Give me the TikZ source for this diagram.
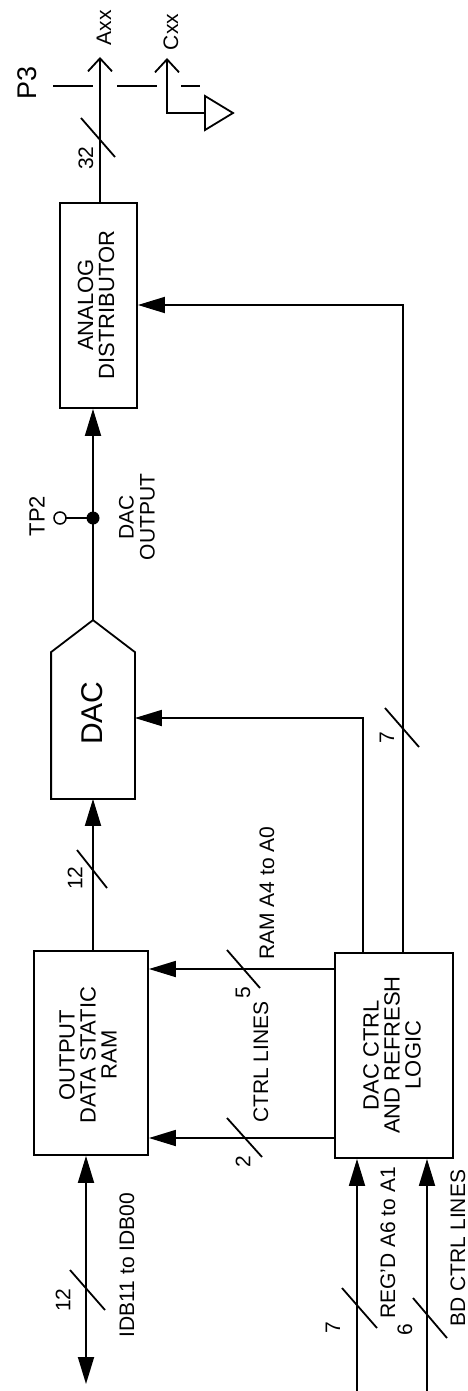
\documentclass[tikz,border=0pt]{standalone}
\usepackage{fontspec}
\setmainfont{Liberation Sans}
\usetikzlibrary{arrows.meta,calc}
\begin{document}
\begin{tikzpicture}[x=1pt,y=-1pt,
  line width=1.8pt,
  box/.style={draw, inner sep=0pt},
  hidden/.style={inner sep=0pt},
  lbl/.style={rotate=90, inner sep=0pt, font=\fontsize{21}{21}\selectfont},
  boxtxt/.style={rotate=90, inner sep=0pt, align=center, font=\fontsize{22}{21}\selectfont},
  arr/.style={-{Triangle[length=27pt,width=16pt]}},
  biarr/.style={{Triangle[length=27pt,width=16pt]}-{Triangle[length=27pt,width=16pt]}},
  openarr/.style={-{Straight Barb[length=13pt,width=24pt]}},
  slash/.style={line width=1.8pt}
]
\useasboundingbox (0,0) rectangle (467,1391);

% boxes
\node[box, minimum width=77pt, minimum height=205pt] (an) at (98.5,305.5) {};
\node[boxtxt] (antxt) at (96,305) {ANALOG\\DISTRIBUTOR};

\node[hidden, minimum width=82pt, minimum height=177pt] (dac) at (93,709.5) {};
\draw (dac.south west) -- ($(dac.north west)+(0,32)$) -- (dac.north) -- ($(dac.north east)+(0,32)$) -- (dac.south east) -- cycle;
\node[rotate=90, inner sep=0pt, font=\fontsize{30}{30}\selectfont] (dactxt) at (92,713) {DAC};

\node[box, minimum width=114pt, minimum height=204pt] (ram) at (91,1053) {};
\node[boxtxt] (ramtxt) at (88,1055) {OUTPUT\\DATA STATIC\\RAM};

\node[box, minimum width=118pt, minimum height=205pt] (ctrl) at (394,1055.5) {};
\node[boxtxt] (ctrltxt) at (392,1055) {DAC CTRL\\AND REFRESH\\LOGIC};

% outputs at P3
\coordinate (axx) at (100,57);
\coordinate (cxx) at (167,58);
\coordinate (cxc) at (167,113);
\coordinate (gnd) at (205,113);
\draw[openarr] (an.north -| axx) -- (axx);
\draw[openarr] (gnd) -- (cxc) -- (cxx);
\draw (gnd) -- (205,96) -- (233,113) -- (205,130) -- cycle;
\coordinate (p3a) at (53,86);
\coordinate (p3b) at (200,86);
\draw[dash pattern=on 40pt off 24pt] (p3a) -- (p3b);
\node[rotate=90, inner sep=0pt, font=\fontsize{27}{27}\selectfont] (p3) at (27,83) {P3};
\node[lbl] (axxl) at (104,28) {Axx};
\node[lbl] (cxxl) at (171,32) {Cxx};
\draw[slash] (81,118) -- (115,157);
\node[lbl] (n32) at (86,158) {32};

% DAC output
\coordinate (junc) at (93,518);
\coordinate (tp) at (60,518);
\draw[arr] (dac.north) -- (an.south -| dac.north);
\draw (tp) ++(6,0) -- (junc);
\draw[line width=1.5pt] (tp) circle (6pt);
\fill (junc) circle (6.5pt);
\node[lbl, font=\fontsize{22}{22}\selectfont] (tp2) at (37,516) {TP2};
\node[lbl, align=center] (dacout) at (137,517) {DAC\\OUTPUT};

% RAM to DAC
\draw[arr] (ram.north -| dac.south) -- (dac.south);
\draw[slash] (77,850) -- (107,888);
\node[lbl] (n12a) at (75,878) {12};

% ctrl to RAM
\coordinate (c5) at (ctrl.west |- 0,969);
\coordinate (c2) at (ctrl.west |- 0,1138);
\draw[arr] (c5) -- (c5 -| ram.east);
\draw[arr] (c2) -- (c2 -| ram.east);
\draw[slash] (227,950) -- (260,988);
\draw[slash] (227,1118) -- (262,1157);
\node[lbl] (n5) at (243,993) {5};
\node[lbl] (n2) at (243,1162) {2};
\node[lbl] (ramaddr) at (267,893) {RAM A4 to A0};
\node[lbl] (ctrllines) at (261,1062) {CTRL LINES};

% ctrl to DAC
\coordinate (cd) at (363,718);
\draw[arr] (ctrl.north -| cd) -- (cd) -- (cd -| dac.east);

% ctrl to analog distributor
\coordinate (ca) at (403,305);
\draw[arr] (ctrl.north -| ca) -- (ca) -- (ca -| an.east);
\draw[slash] (385,708) -- (419,747);
\node[lbl] (n7a) at (387,738) {7};

% IDB bus
\coordinate (idb) at (86,1384);
\draw[biarr] (ram.south -| idb) -- (idb);
\draw[slash] (70,1270) -- (105,1310);
\node[lbl] (n12b) at (63,1300) {12};
\node[lbl] (idbl) at (127,1265) {IDB11 to IDB00};

% inputs to ctrl
\coordinate (in1) at (357,1391);
\coordinate (in2) at (427,1391);
\draw[arr] (in1) -- (in1 |- ctrl.south);
\draw[arr] (in2) -- (in2 |- ctrl.south);
\draw[slash] (342,1288) -- (377,1328);
\draw[slash] (413,1298) -- (447,1338);
\node[lbl] (n7b) at (333,1328) {7};
\node[lbl] (n6) at (405,1330) {6};
\node[lbl] (regd) at (388,1243) {REG'D A6 to A1};
\node[lbl] (bdctrl) at (458,1248) {BD CTRL LINES};
\end{tikzpicture}
\end{document}
